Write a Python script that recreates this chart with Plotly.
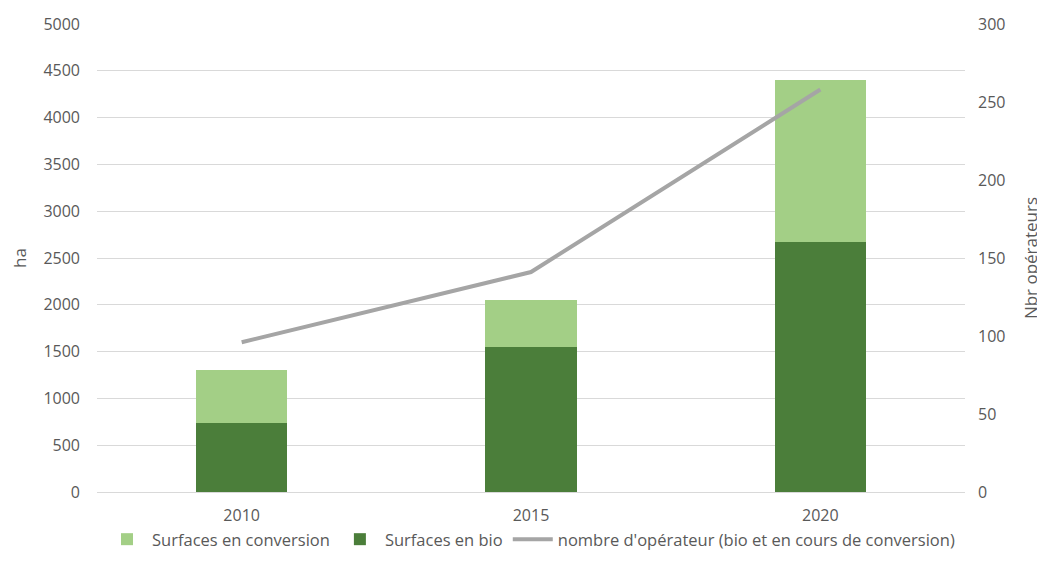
import plotly.graph_objects as go

years = ["2010", "2015", "2020"]
surf_bio = [740, 1550, 2670]
surf_conversion = [560, 500, 1730]
nb_operateurs = [96, 141, 258]

FONT = "Open Sans"
GREY = "#595959"

fig = go.Figure()
fig.add_trace(go.Bar(x=years, y=surf_bio, name="Surfaces en bio",
                     marker=dict(color="#4B7E3A", line=dict(width=0)), legendrank=2))
fig.add_trace(go.Bar(x=years, y=surf_conversion, name="Surfaces en conversion",
                     marker=dict(color="#A3CF86", line=dict(width=0)), legendrank=1))
fig.add_trace(go.Scatter(x=years, y=nb_operateurs, name="nombre d'opérateur (bio et en cours de conversion)",
                         mode="lines", line=dict(color="#A5A5A5", width=4), yaxis="y2", legendrank=3))

fig.update_layout(
    width=1037, height=569,
    paper_bgcolor="white", plot_bgcolor="white",
    barmode="stack", bargap=0.685,
    margin=dict(l=89, r=80, t=16, b=85, autoexpand=False),
    font=dict(family=FONT, size=16, color=GREY),
    xaxis=dict(showgrid=False, showline=False, ticks="", automargin=False,
               tickfont=dict(size=16, color=GREY), ticklabelstandoff=12),
    yaxis=dict(range=[0, 5000], dtick=500, showgrid=True, gridcolor="#D9D9D9", gridwidth=1,
               zeroline=True, zerolinecolor="#D9D9D9", zerolinewidth=1, automargin=False,
               title=dict(text="ha", font=dict(size=17, color=GREY), standoff=20),
               ticks="", tickfont=dict(size=16, color=GREY), ticklabelstandoff=16),
    yaxis2=dict(range=[0, 300], dtick=50, overlaying="y", side="right", showgrid=False,
                zeroline=False, ticks="", automargin=False,
                title=dict(text="Nbr opérateurs", font=dict(size=17, color=GREY), standoff=20),
                tickfont=dict(size=16, color=GREY), ticklabelstandoff=12),
    legend=dict(orientation="h", x=0.5, xanchor="center", y=-0.064, yanchor="top",
                font=dict(size=16.5, color=GREY), traceorder="normal", itemwidth=40),
    showlegend=True,
)

fig.write_html("out.html")
